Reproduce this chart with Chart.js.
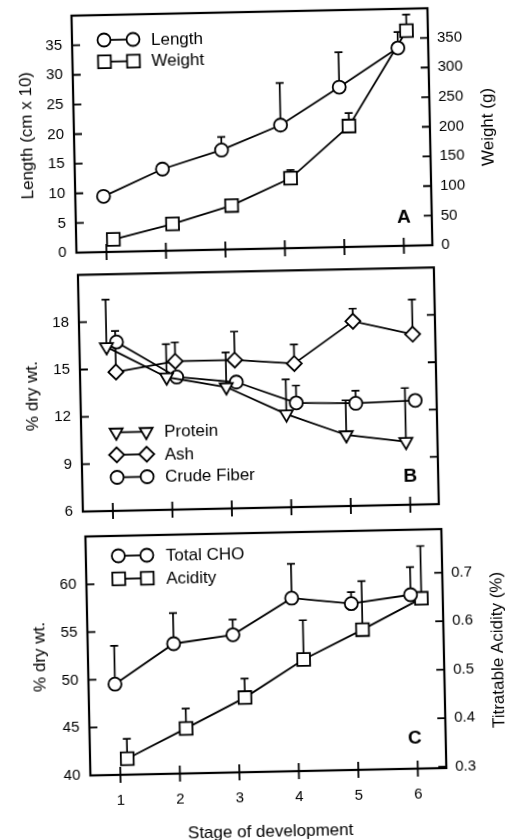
<!DOCTYPE html>
<html>
<head>
<meta charset="utf-8">
<title>Stage of development</title>
<script src="https://cdn.jsdelivr.net/npm/chart.js@4.4.1/dist/chart.umd.min.js"></script>
<style>
    html, body { margin: 0; padding: 0; background: #fff; }
    /* the scanned figure sits slightly tilted on the page */
    #page { position: relative; width: 505px; height: 840px; transform: rotate(-1.2deg); transform-origin: 252.5px 420px; }
    #page canvas { position: absolute; left: 0; }
</style>
</head>
<body>
<div id="page">
    <canvas id="chartA" width="505" height="262" style="top:0px"></canvas>
    <canvas id="chartB" width="505" height="258" style="top:262px"></canvas>
    <canvas id="chartC" width="505" height="320" style="top:520px"></canvas>
</div>
<script>
const stages = [1, 2, 3, 4, 5, 6];

// Panel A - length / weight
const lengthVals = [9.4, 13.8, 16.8, 20.8, 27.0, 33.4];
const lengthErr = [null, null, 19.0, 27.9, 32.9, 36.1];
const weightVals = [21, 45, 74, 118, 204, 363];
const weightErr = [null, null, null, 132, 226, 390];
const ticksA = [0, 5, 10, 15, 20, 25, 30, 35];
const ticksA2 = [0, 50, 100, 150, 200, 250, 300, 350];

// Panel B - protein / ash / crude fiber
const proteinVals = [16.4, 14.4, 13.7, 11.9, 10.5, 10.0];
const proteinErr = [19.4, 16.5, 15.9, 14.1, 12.7, 13.4];
const ashVals = [14.8, 15.4, 15.4, 15.1, 17.7, 16.8];
const ashErr = [17.4, 16.6, 17.2, 16.3, 18.5, 19.0];
const fiberVals = [16.7, 14.4, 14.0, 12.6, 12.5, 12.6];
const fiberErr = [null, null, null, 13.7, 13.3, null];
const ticksB = [6, 9, 12, 15, 18];

// Panel C - total CHO / acidity
const choVals = [49.5, 53.6, 54.4, 58.1, 57.4, 58.2];
const choErr = [53.5, 56.8, 56.0, 61.7, 58.6, 61.1];
const acidVals = [0.330, 0.390, 0.451, 0.527, 0.586, 0.648];
const acidErr = [0.371, 0.431, 0.490, 0.608, 0.686, 0.756];
const ticksC = [40, 45, 50, 55, 60];
const ticksC2 = [0.3, 0.4, 0.5, 0.6, 0.7];

const FONT = "'Liberation Sans', Arial, Helvetica, sans-serif";
Chart.defaults.font.family = FONT;
Chart.defaults.color = '#000';

document.addEventListener('DOMContentLoaded', function() {
    initPanelA();
    initPanelB();
    initPanelC();
});

function points(vals, shift) {
    return vals.map((v, i) => ({ x: stages[i] + shift, y: v }));
}

function series(label, vals, err, shift, yAxisID, pointStyle, radius, rotation) {
    return {
        label: label,
        data: points(vals, shift),
        errTop: err,
        yAxisID: yAxisID,
        borderColor: '#000',
        borderWidth: 1.8,
        backgroundColor: '#fff',
        fill: false,
        tension: 0,
        pointStyle: pointStyle,
        pointRadius: radius,
        pointRotation: rotation || 0,
        pointBackgroundColor: '#fff',
        pointBorderColor: '#000',
        pointBorderWidth: 1.8,
        clip: false
    };
}

function xScale(showLabels, height) {
    return {
        type: 'linear',
        min: 0.495,
        max: 6.48,
        grid: { display: false, drawTicks: false },
        border: { display: false },
        afterBuildTicks: s => { s.ticks = stages.map(v => ({ value: v })); },
        ticks: { display: showLabels, padding: 17, font: { size: 15 } },
        afterFit: s => { s.height = height; s.paddingLeft = 0; s.paddingRight = 0; }
    };
}

function yScale(position, min, max, tickVals, width, showLabels) {
    return {
        type: 'linear',
        position: position,
        min: min,
        max: max,
        grid: { display: false, drawTicks: false },
        border: { display: false },
        afterBuildTicks: s => { s.ticks = tickVals.map(v => ({ value: v })); },
        ticks: { display: showLabels, padding: position === 'left' ? 10 : 9, font: { size: 15 } },
        afterFit: s => { s.width = width; s.paddingTop = 0; s.paddingBottom = 0; }
    };
}

function drawMarker(ctx, style, x, y, r) {
    ctx.beginPath();
    if (style === 'circle') {
        ctx.arc(x, y, r, 0, Math.PI * 2);
    } else if (style === 'rect') {
        const s = r * Math.SQRT1_2;
        ctx.rect(x - s, y - s, 2 * s, 2 * s);
    } else if (style === 'triangle') {
        // drawn pointing down, like the data markers
        ctx.moveTo(x, y + r);
        ctx.lineTo(x - r * 0.866, y - r / 2);
        ctx.lineTo(x + r * 0.866, y - r / 2);
        ctx.closePath();
    } else if (style === 'rectRot') {
        ctx.moveTo(x - r, y);
        ctx.lineTo(x, y - r);
        ctx.lineTo(x + r, y);
        ctx.lineTo(x, y + r);
        ctx.closePath();
    }
    ctx.fillStyle = '#fff';
    ctx.fill();
    ctx.stroke();
}

// box, inward/crossing ticks, error bars, pair legend, titles and panel letter
function makeFrame(deco) {
    return {
        id: 'frame',
        beforeDatasetsDraw(chart) {
            const ctx = chart.ctx;
            const xs = chart.scales.x;
            ctx.save();
            ctx.strokeStyle = '#000';
            ctx.lineWidth = 1.7;
            chart.data.datasets.forEach(ds => {
                const ys = chart.scales[ds.yAxisID];
                ds.errTop.forEach((top, i) => {
                    if (top === null) return;
                    const p = ds.data[i];
                    const x = xs.getPixelForValue(p.x);
                    const y0 = ys.getPixelForValue(p.y);
                    const y1 = ys.getPixelForValue(top);
                    ctx.beginPath();
                    ctx.moveTo(x, y0);
                    ctx.lineTo(x, y1);
                    ctx.moveTo(x - 4, y1);
                    ctx.lineTo(x + 4, y1);
                    ctx.stroke();
                });
            });
            ctx.restore();
        },
        afterDraw(chart) {
            const ctx = chart.ctx;
            const a = chart.chartArea;
            ctx.save();
            ctx.strokeStyle = '#000';
            ctx.fillStyle = '#000';
            ctx.lineWidth = 2.2;
            ctx.strokeRect(a.left, a.top, a.right - a.left, a.bottom - a.top);

            ctx.lineWidth = 1.8;
            ctx.beginPath();
            chart.scales.x.ticks.forEach(t => {
                const x = chart.scales.x.getPixelForValue(t.value);
                ctx.moveTo(x, a.bottom - 8);
                ctx.lineTo(x, a.bottom + 8);
            });
            Object.values(chart.scales).forEach(s => {
                if (s.axis !== 'y') return;
                s.ticks.forEach(t => {
                    const y = s.getPixelForValue(t.value);
                    if (s.position === 'left') {
                        ctx.moveTo(a.left, y);
                        ctx.lineTo(a.left + 8, y);
                    } else {
                        ctx.moveTo(a.right - 8, y);
                        ctx.lineTo(a.right, y);
                    }
                });
            });
            ctx.stroke();

            // legend: marker - line - marker, then label
            const lg = deco.legend;
            ctx.font = '17px ' + FONT;
            ctx.textBaseline = 'middle';
            ctx.textAlign = 'left';
            chart.data.datasets.forEach((ds, i) => {
                const y = lg.y0 + i * lg.dy;
                ctx.lineWidth = 1.8;
                ctx.beginPath();
                ctx.moveTo(lg.x0, y);
                ctx.lineTo(lg.x1, y);
                ctx.stroke();
                drawMarker(ctx, ds.pointStyle, lg.x0, y, ds.pointRadius);
                drawMarker(ctx, ds.pointStyle, lg.x1, y, ds.pointRadius);
                ctx.fillStyle = '#000';
                ctx.fillText(ds.label, lg.tx, y + 1);
            });

            ctx.textAlign = 'center';
            deco.titles.forEach(t => {
                ctx.save();
                ctx.translate(t.x, t.y);
                ctx.rotate(t.rot * Math.PI / 180);
                ctx.font = '17px ' + FONT;
                ctx.fillText(t.text, 0, 0);
                ctx.restore();
            });

            ctx.font = 'bold 19px ' + FONT;
            ctx.fillText(deco.letter.text, deco.letter.x, deco.letter.y);
            ctx.restore();
        }
    };
}

const baseOptions = {
    responsive: false,
    animation: false,
    events: [],
    plugins: {
        legend: { display: false },
        tooltip: { enabled: false }
    }
};

/**
 * Panel A
 */
function initPanelA() {
    new Chart(document.getElementById('chartA'), {
        type: 'line',
        data: {
            datasets: [
                series('Length', lengthVals, lengthErr, -0.03, 'y', 'circle', 6.5),
                series('Weight', weightVals, weightErr, 0.12, 'y2', 'rect', 9)
            ]
        },
        options: Object.assign({}, baseOptions, {
            layout: { padding: { top: 12, left: 0, right: 0, bottom: 0 } },
            scales: {
                x: xScale(false, 13),
                y: yScale('left', 0, 40, ticksA, 80, true),
                y2: yScale('right', 0, 400, ticksA2, 69, true)
            }
        }),
        plugins: [makeFrame({
            legend: { x0: 112, x1: 141, tx: 159, y0: 37, dy: 21.7 },
            titles: [
                { text: 'Length (cm x 10)', x: 33, y: 131, rot: -90 },
                { text: 'Weight (g)', x: 494, y: 132, rot: -90 }
            ],
            letter: { text: 'A', x: 408, y: 221 }
        })]
    });
}

/**
 * Panel B
 */
function initPanelB() {
    new Chart(document.getElementById('chartB'), {
        type: 'line',
        data: {
            datasets: [
                series('Protein', proteinVals, proteinErr, -0.05, 'y', 'triangle', 7.5, 180),
                series('Ash', ashVals, ashErr, 0.1, 'y', 'rectRot', 7.5),
                series('Crude Fiber', fiberVals, fiberErr, 0.12, 'y', 'circle', 6.5)
            ]
        },
        options: Object.assign({}, baseOptions, {
            layout: { padding: { top: 7, left: 0, right: 0, bottom: 0 } },
            scales: {
                x: xScale(false, 12),
                y: yScale('left', 6, 21, ticksB, 81, true),
                y2: yScale('right', 6, 21, ticksB, 68, false)
            }
        }),
        plugins: [makeFrame({
            legend: { x0: 116, x1: 146, tx: 164, y0: 167.5, dy: 22.5 },
            titles: [
                { text: '% dry wt.', x: 33.5, y: 129.5, rot: -90 }
            ],
            letter: { text: 'B', x: 409, y: 218 }
        })]
    });
}

/**
 * Panel C
 */
function initPanelC() {
    new Chart(document.getElementById('chartC'), {
        type: 'line',
        data: {
            datasets: [
                series('Total CHO', choVals, choErr, -0.06, 'y', 'circle', 6.5),
                series('Acidity', acidVals, acidErr, 0.12, 'y2', 'rect', 9)
            ]
        },
        options: Object.assign({}, baseOptions, {
            layout: { padding: { top: 13, left: 0, right: 0, bottom: 0 } },
            scales: {
                x: xScale(true, 68),
                y: yScale('left', 40, 65, ticksC, 83, true),
                y2: yScale('right', 0.297, 0.79, ticksC2, 66, true)
            }
        }),
        plugins: [makeFrame({
            legend: { x0: 115.5, x1: 144, tx: 163, y0: 33, dy: 23 },
            titles: [
                { text: '% dry wt.', x: 35, y: 132.5, rot: -90 },
                { text: 'Titratable Acidity (%)', x: 493, y: 135, rot: -90 },
                { text: 'Stage of development', x: 262, y: 312, rot: 0 }
            ],
            letter: { text: 'C', x: 408, y: 222 }
        })]
    });
}
</script>
</body>
</html>
